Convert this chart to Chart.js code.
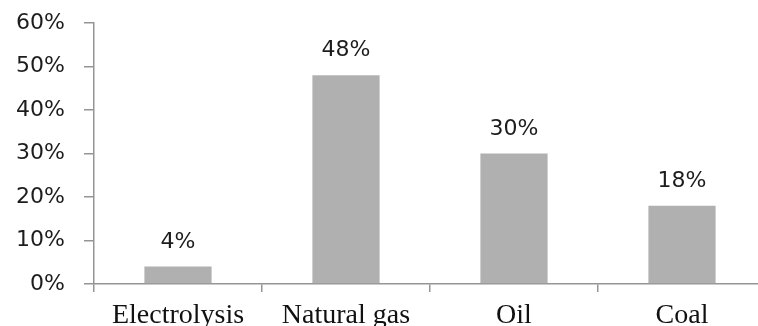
<!DOCTYPE html>
<html>
<head>
<meta charset="utf-8">
<script src="https://cdn.jsdelivr.net/npm/chart.js@4.4.1/dist/chart.umd.min.js"></script>
<style>
  html, body { margin: 0; padding: 0; background: #ffffff; overflow: hidden; }
  #wrap { width: 772px; height: 326px; }
</style>
</head>
<body>
<div id="wrap"><canvas id="c" width="772" height="326"></canvas></div>
<script>
// Hydrogen production by source (share of total)
const categories = ['Electrolysis', 'Natural gas', 'Oil', 'Coal'];
const shares = [4, 48, 30, 18];
const yTicks = [0, 10, 20, 30, 40, 50, 60];

const AXIS = '#959595';
const BAR = '#b0b0b1';

// Percentage labels above each bar
const valueLabels = {
  id: 'valueLabels',
  afterDatasetsDraw(chart) {
    const ctx = chart.ctx;
    const meta = chart.getDatasetMeta(0);
    ctx.save();
    ctx.font = '22px "DejaVu Sans"';
    ctx.fillStyle = '#1c1c1c';
    ctx.textAlign = 'center';
    ctx.textBaseline = 'alphabetic';
    meta.data.forEach((bar, i) => {
      ctx.fillText(shares[i] + '%', bar.x, bar.y - 19);
    });
    ctx.restore();
  }
};

new Chart(document.getElementById('c'), {
  type: 'bar',
  data: {
    labels: categories,
    datasets: [{
      data: shares,
      backgroundColor: BAR,
      borderWidth: 0,
      barPercentage: 0.4,
      categoryPercentage: 1.0
    }]
  },
  options: {
    responsive: false,
    animation: false,
    events: [],
    layout: { padding: { top: 23, right: 6, left: 0, bottom: 0 } },
    plugins: { legend: { display: false }, tooltip: { enabled: false } },
    scales: {
      x: {
        grid: {
          offset: true,
          drawOnChartArea: false,
          drawTicks: true,
          tickLength: 8,
          color: AXIS,
          lineWidth: 1.5
        },
        border: { display: true, color: AXIS, width: 1.5 },
        ticks: {
          color: '#111111',
          font: { family: '"Liberation Serif"', size: 28 },
          padding: 7,
          maxRotation: 0,
          autoSkip: false
        },
        afterFit(scale) { scale.height = 42; }
      },
      y: {
        min: 0,
        max: 60,
        afterBuildTicks(scale) { scale.ticks = yTicks.map(v => ({ value: v })); },
        grid: {
          drawOnChartArea: false,
          drawTicks: true,
          tickLength: 10,
          color: AXIS,
          lineWidth: 1.5
        },
        border: { display: true, color: AXIS, width: 1.5 },
        ticks: {
          color: '#1c1c1c',
          font: { family: '"DejaVu Sans"', size: 22 },
          padding: 19,
          callback: v => v + '%'
        },
        afterFit(scale) {
          scale.width = 94;
          scale.paddingTop = 0;
          scale.paddingBottom = 0;
        }
      }
    }
  },
  plugins: [valueLabels]
});
</script>
</body>
</html>
